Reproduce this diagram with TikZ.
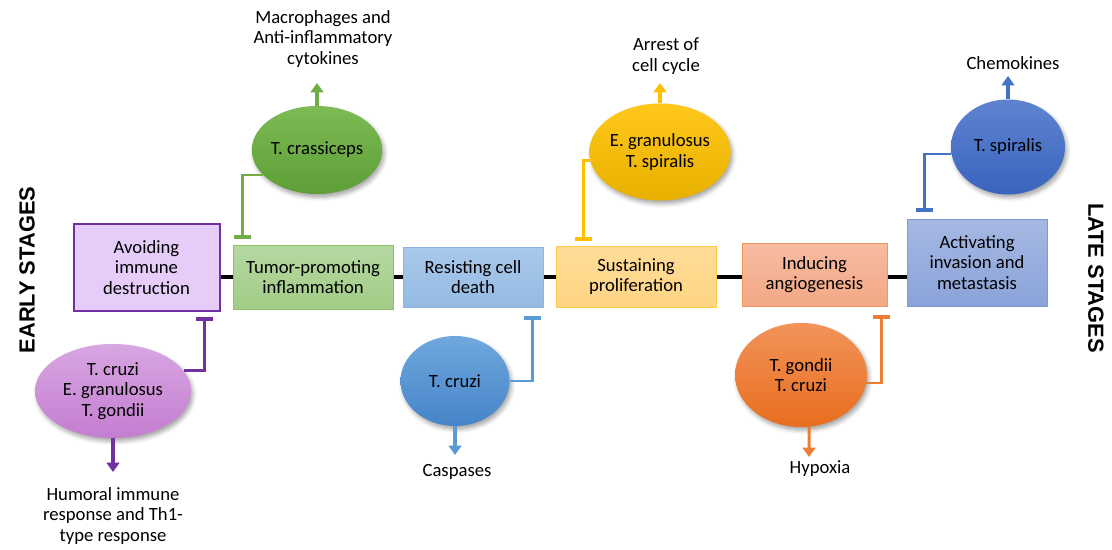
\documentclass[tikz,border=0pt]{standalone}
\usepackage{fontspec}
\setmainfont{Carlito}
\newfontfamily\stagefont{Liberation Sans}
\usetikzlibrary{arrows.meta,shapes.geometric,calc,shadows.blur}
\definecolor{purpleD}{HTML}{7030A0}
\definecolor{purpleBox}{HTML}{E6CCF8}
\definecolor{purpleT}{HTML}{D8A6E2}
\definecolor{purpleB}{HTML}{C47DD0}
\definecolor{greenD}{HTML}{70AD47}
\definecolor{greenBoxT}{HTML}{B6D9A2}
\definecolor{greenBoxB}{HTML}{A1CB86}
\definecolor{greenBord}{HTML}{8CC06A}
\definecolor{greenT}{HTML}{7DBB55}
\definecolor{greenB}{HTML}{5E9E36}
\definecolor{blueD}{HTML}{5B9BD5}
\definecolor{blueBoxT}{HTML}{A9C8EA}
\definecolor{blueBoxB}{HTML}{95BBE3}
\definecolor{blueBord}{HTML}{8DB5E2}
\definecolor{blueT}{HTML}{70A8DE}
\definecolor{blueB}{HTML}{4684C8}
\definecolor{yellowD}{HTML}{FFC000}
\definecolor{yellowBoxT}{HTML}{FFDC98}
\definecolor{yellowBoxB}{HTML}{FFD584}
\definecolor{yellowBord}{HTML}{FFC94A}
\definecolor{yellowT}{HTML}{FFC81A}
\definecolor{yellowB}{HTML}{E8B000}
\definecolor{orangeD}{HTML}{ED7D31}
\definecolor{orangeBoxT}{HTML}{F6BBA0}
\definecolor{orangeBoxB}{HTML}{F3A886}
\definecolor{orangeT}{HTML}{F2925A}
\definecolor{orangeB}{HTML}{E86E1E}
\definecolor{navyD}{HTML}{4472C4}
\definecolor{navyBoxT}{HTML}{A6B8E2}
\definecolor{navyBoxB}{HTML}{8AA3D9}
\definecolor{navyBord}{HTML}{7E9AD5}
\definecolor{navyT}{HTML}{5E84D0}
\definecolor{navyB}{HTML}{3A63BE}
\begin{document}
\begin{tikzpicture}[x=0.75pt,y=-0.75pt,
  font=\fontsize{14}{15.5}\selectfont,
  box/.style={draw, line width=0.75pt, align=center, inner sep=2pt, text=black},
  blob/.style={ellipse, inner sep=0pt, align=center, text=black,
    blur shadow={shadow xshift=1.5pt, shadow yshift=-2.5pt, shadow blur radius=3pt, shadow opacity=35}},
  inh/.style={line width=2pt, -{Bar[width=13pt,line width=3pt]}},
  arr/.style={line width=2.3pt, -{Triangle[width=9.5pt,length=7pt]}},
  lbl/.style={align=center, inner sep=0pt, text=black},
  stage/.style={font=\stagefont\bfseries\fontsize{16.4}{18}\selectfont, inner sep=0pt}
]
\useasboundingbox (0,0) rectangle (1112,549);

% boxes
\node[box, line width=1.5pt, draw=purpleD, fill=purpleBox, minimum width=109.5pt, minimum height=65.25pt] (b1) at (146.5,267.5) {Avoiding\\immune\\destruction};
\node[box, draw=greenBord, top color=greenBoxT, bottom color=greenBoxB, minimum width=120pt, minimum height=48pt] (b2) at (313,277) {Tumor-promoting\\inflammation};
\node[box, draw=blueBord, top color=blueBoxT, bottom color=blueBoxB, minimum width=105pt, minimum height=45pt] (b3) at (473,277) {Resisting cell\\death};
\node[box, draw=yellowBord, top color=yellowBoxT, bottom color=yellowBoxB, minimum width=120pt, minimum height=45.75pt] (b4) at (636,276.5) {Sustaining\\proliferation};
\node[box, draw=orangeD!80, top color=orangeBoxT, bottom color=orangeBoxB, minimum width=108.75pt, minimum height=47.25pt] (b5) at (814.5,274.5) {Inducing\\angiogenesis};
\node[box, draw=navyBord, top color=navyBoxT, bottom color=navyBoxB, minimum width=105pt, minimum height=65.25pt] (b6) at (977,262.5) {Activating\\invasion and\\metastasis};

% main axis
\draw[line width=3pt] (b1.east |- b2.east) -- (b2.west |- b2.east);
\draw[line width=3pt] (b2.east) -- (b3.west |- b2.east);
\draw[line width=3pt] (b3.east |- b2.east) -- (b4.west |- b2.east);
\draw[line width=3pt] (b4.east |- b2.east) -- (b5.west |- b2.east);
\draw[line width=3pt] (b5.east |- b2.east) -- (b6.west |- b2.east);

% ellipses
\node[blob, top color=purpleT, bottom color=purpleB, minimum width=117pt, minimum height=70.5pt] (pe) at (113,391) {T. cruzi\\E. granulosus\\T. gondii};
\node[blob, top color=greenT, bottom color=greenB, minimum width=89.25pt, minimum height=66pt] (ge) at (317,150) {T. crassiceps};
\node[blob, top color=blueT, bottom color=blueB, minimum width=81.75pt, minimum height=67.5pt] (be) at (455,381) {T. cruzi};
\node[blob, top color=yellowT, bottom color=yellowB, minimum width=92.25pt, minimum height=72.75pt] (ye) at (660,152) {E. granulosus\\T. spiralis};
\node[blob, top color=orangeT, bottom color=orangeB, minimum width=99pt, minimum height=78pt] (oe) at (801,375) {T. gondii\\T. cruzi};
\node[blob, top color=navyT, bottom color=navyB, minimum width=85.5pt, minimum height=71.25pt] (de) at (1008,147) {T. spiralis};

% inhibition connectors
\draw[inh, purpleD] (pe.16) -| ($(b1.south east)+(-16,5)$);
\draw[inh, greenD] (ge.205) -| ($(b2.north west)+(10,-6)$);
\draw[inh, blueD] (be.east) -| ($(b3.south east)+(-11,8)$);
\draw[inh, yellowD] (ye.187) -| ($(b4.north west)+(28,-5)$);
\draw[inh, orangeD] (oe.353) -| ($(b5.south east)+(-6,8)$);
\draw[inh, navyD] (de.187) -| ($(b6.north west)+(18,-7)$);

% outcome labels
\node[lbl] (pl) at (113,516) {Humoral immune\\response and Th1-\\type response};
\node[lbl] (gl) at (323,39) {Macrophages and\\Anti-inflammatory\\cytokines};
\node[lbl] (bl) at (457,472) {Caspases};
\node[lbl] (yl) at (666,56) {Arrest of\\cell cycle};
\node[lbl] (ol) at (820,469) {Hypoxia};
\node[lbl] (dl) at (1013,63) {Chemokines};

% outcome arrows
\coordinate (pa) at (113,472);
\coordinate (ga) at (317,83);
\coordinate (ba) at (455,455);
\coordinate (ya) at (660,83);
\coordinate (oa) at (809,457);
\coordinate (da) at (1008,76);
\draw[arr, purpleD] (pe.south) -- (pa);
\draw[arr, greenD] (ge.north) -- (ga);
\draw[arr, blueD] (be.south) -- (ba);
\draw[arr, yellowD] (ye.north) -- (ya);
\draw[arr, orangeD] (oe.-81) -- (oa);
\draw[arr, navyD] (de.north) -- (da);

% stage labels
\node[stage, rotate=90] (early) at (27,270) {EARLY STAGES};
\node[stage, rotate=-90] (late) at (1096,278) {LATE STAGES};
\end{tikzpicture}
\end{document}
